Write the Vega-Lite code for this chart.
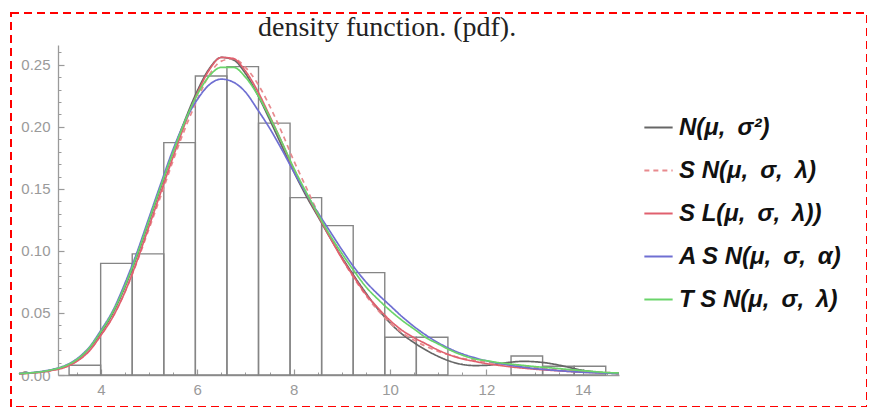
{
  "$schema": "https://vega.github.io/schema/vega-lite/v6.json",
  "autosize": {"type": "none"},
  "padding": {"left": 11, "top": 13, "right": 0, "bottom": 0},
  "width": 856,
  "height": 394,
  "background": "white",
  "title": {
    "text": "density function. (pdf).",
    "font": "Liberation Serif",
    "fontSize": 28,
    "fontWeight": "normal",
    "color": "#222222",
    "anchor": "start",
    "frame": "group",
    "baseline": "alphabetic",
    "offset": 0,
    "dx": 247,
    "dy": 51
  },
  "config": {
    "view": {"stroke": "#ff0000", "strokeDash": [8, 5], "strokeWidth": 2},
    "legend": {
      "orient": "none",
      "legendX": 632,
      "legendY": 99,
      "symbolType": "stroke",
      "symbolSize": 800,
      "symbolStrokeWidth": 2,
      "labelFont": "Liberation Sans",
      "labelFontSize": 24,
      "labelFontStyle": "italic",
      "labelFontWeight": "bold",
      "labelColor": "#111111",
      "rowPadding": 15,
      "labelLimit": 400,
      "labelOffset": 5
    }
  },
  "resolve": {"scale": {"x": "independent", "y": "independent"}, "axis": {"x": "independent", "y": "independent"}},
  "datasets": {
    "bins": [
      {"x0": 3.34, "x1": 3.995, "density": 0.0078},
      {"x0": 3.995, "x1": 4.65, "density": 0.09},
      {"x0": 4.65, "x1": 5.305, "density": 0.0976},
      {"x0": 5.305, "x1": 5.96, "density": 0.1873},
      {"x0": 5.96, "x1": 6.615, "density": 0.241},
      {"x0": 6.615, "x1": 7.27, "density": 0.2486},
      {"x0": 7.27, "x1": 7.925, "density": 0.203},
      {"x0": 7.925, "x1": 8.58, "density": 0.143},
      {"x0": 8.58, "x1": 9.235, "density": 0.1204},
      {"x0": 9.235, "x1": 9.89, "density": 0.0825},
      {"x0": 9.89, "x1": 10.545, "density": 0.0304},
      {"x0": 10.545, "x1": 11.2, "density": 0.0304},
      {"x0": 12.51, "x1": 13.165, "density": 0.0153},
      {"x0": 13.165, "x1": 13.82, "density": 0.007},
      {"x0": 13.82, "x1": 14.475, "density": 0.007}
    ],
    "curves": [
      {"x": 2.3, "N": 0.001, "SN": 0.001, "SL": 0.001, "ASN": 0.0012, "TSN": 0.0011},
      {"x": 2.5, "N": 0.0015, "SN": 0.0014, "SL": 0.0014, "ASN": 0.0017, "TSN": 0.0016},
      {"x": 2.75, "N": 0.0025, "SN": 0.0023, "SL": 0.0023, "ASN": 0.0028, "TSN": 0.0026},
      {"x": 3.0, "N": 0.0042, "SN": 0.0038, "SL": 0.0038, "ASN": 0.0046, "TSN": 0.0044},
      {"x": 3.25, "N": 0.0068, "SN": 0.0062, "SL": 0.0062, "ASN": 0.0075, "TSN": 0.0072},
      {"x": 3.5, "N": 0.012, "SN": 0.011, "SL": 0.011, "ASN": 0.013, "TSN": 0.0125},
      {"x": 3.75, "N": 0.021, "SN": 0.019, "SL": 0.019, "ASN": 0.022, "TSN": 0.0215},
      {"x": 4.0, "N": 0.034, "SN": 0.032, "SL": 0.032, "ASN": 0.036, "TSN": 0.035},
      {"x": 4.25, "N": 0.05, "SN": 0.047, "SL": 0.047, "ASN": 0.052, "TSN": 0.051},
      {"x": 4.5, "N": 0.071, "SN": 0.067, "SL": 0.067, "ASN": 0.074, "TSN": 0.072},
      {"x": 4.75, "N": 0.096, "SN": 0.091, "SL": 0.092, "ASN": 0.099, "TSN": 0.097},
      {"x": 5.0, "N": 0.124, "SN": 0.118, "SL": 0.12, "ASN": 0.127, "TSN": 0.125},
      {"x": 5.25, "N": 0.152, "SN": 0.145, "SL": 0.148, "ASN": 0.155, "TSN": 0.153},
      {"x": 5.5, "N": 0.18, "SN": 0.173, "SL": 0.176, "ASN": 0.182, "TSN": 0.18},
      {"x": 5.75, "N": 0.206, "SN": 0.199, "SL": 0.203, "ASN": 0.205, "TSN": 0.205},
      {"x": 6.0, "N": 0.229, "SN": 0.222, "SL": 0.227, "ASN": 0.222, "TSN": 0.226},
      {"x": 6.25, "N": 0.247, "SN": 0.242, "SL": 0.246, "ASN": 0.234, "TSN": 0.241},
      {"x": 6.5, "N": 0.256, "SN": 0.253, "SL": 0.256, "ASN": 0.2385, "TSN": 0.248},
      {"x": 6.75, "N": 0.254, "SN": 0.255, "SL": 0.255, "ASN": 0.236, "TSN": 0.248},
      {"x": 7.0, "N": 0.243, "SN": 0.248, "SL": 0.245, "ASN": 0.228, "TSN": 0.24},
      {"x": 7.25, "N": 0.226, "SN": 0.235, "SL": 0.229, "ASN": 0.214, "TSN": 0.226},
      {"x": 7.5, "N": 0.206, "SN": 0.217, "SL": 0.209, "ASN": 0.199, "TSN": 0.208},
      {"x": 7.75, "N": 0.185, "SN": 0.196, "SL": 0.188, "ASN": 0.182, "TSN": 0.188},
      {"x": 8.0, "N": 0.164, "SN": 0.173, "SL": 0.166, "ASN": 0.164, "TSN": 0.167},
      {"x": 8.25, "N": 0.145, "SN": 0.152, "SL": 0.147, "ASN": 0.147, "TSN": 0.148},
      {"x": 8.5, "N": 0.128, "SN": 0.131, "SL": 0.129, "ASN": 0.131, "TSN": 0.13},
      {"x": 8.75, "N": 0.111, "SN": 0.112, "SL": 0.111, "ASN": 0.116, "TSN": 0.113},
      {"x": 9.0, "N": 0.095, "SN": 0.094, "SL": 0.094, "ASN": 0.101, "TSN": 0.098},
      {"x": 9.25, "N": 0.08, "SN": 0.078, "SL": 0.079, "ASN": 0.087, "TSN": 0.084},
      {"x": 9.5, "N": 0.066, "SN": 0.064, "SL": 0.065, "ASN": 0.075, "TSN": 0.071},
      {"x": 9.75, "N": 0.053, "SN": 0.052, "SL": 0.054, "ASN": 0.065, "TSN": 0.061},
      {"x": 10.0, "N": 0.042, "SN": 0.042, "SL": 0.044, "ASN": 0.056, "TSN": 0.052},
      {"x": 10.25, "N": 0.033, "SN": 0.034, "SL": 0.036, "ASN": 0.047, "TSN": 0.044},
      {"x": 10.5, "N": 0.026, "SN": 0.028, "SL": 0.03, "ASN": 0.039, "TSN": 0.037},
      {"x": 10.75, "N": 0.02, "SN": 0.023, "SL": 0.025, "ASN": 0.032, "TSN": 0.03},
      {"x": 11.0, "N": 0.015, "SN": 0.019, "SL": 0.02, "ASN": 0.026, "TSN": 0.025},
      {"x": 11.25, "N": 0.011, "SN": 0.016, "SL": 0.016, "ASN": 0.021, "TSN": 0.02},
      {"x": 11.5, "N": 0.0085, "SN": 0.0135, "SL": 0.013, "ASN": 0.017, "TSN": 0.016},
      {"x": 11.75, "N": 0.0076, "SN": 0.012, "SL": 0.011, "ASN": 0.014, "TSN": 0.013},
      {"x": 12.0, "N": 0.0078, "SN": 0.0105, "SL": 0.0092, "ASN": 0.0115, "TSN": 0.0115},
      {"x": 12.25, "N": 0.009, "SN": 0.0092, "SL": 0.0078, "ASN": 0.0095, "TSN": 0.01},
      {"x": 12.5, "N": 0.0103, "SN": 0.008, "SL": 0.0066, "ASN": 0.0078, "TSN": 0.0088},
      {"x": 12.75, "N": 0.011, "SN": 0.007, "SL": 0.0056, "ASN": 0.0064, "TSN": 0.0078},
      {"x": 13.0, "N": 0.0107, "SN": 0.006, "SL": 0.0047, "ASN": 0.0052, "TSN": 0.0068},
      {"x": 13.25, "N": 0.0097, "SN": 0.0051, "SL": 0.004, "ASN": 0.0043, "TSN": 0.006},
      {"x": 13.5, "N": 0.008, "SN": 0.0043, "SL": 0.0034, "ASN": 0.0035, "TSN": 0.0052},
      {"x": 13.75, "N": 0.0058, "SN": 0.0036, "SL": 0.0028, "ASN": 0.0028, "TSN": 0.0043},
      {"x": 14.0, "N": 0.0038, "SN": 0.003, "SL": 0.0023, "ASN": 0.0022, "TSN": 0.0035},
      {"x": 14.25, "N": 0.0025, "SN": 0.0025, "SL": 0.0019, "ASN": 0.0018, "TSN": 0.0027},
      {"x": 14.5, "N": 0.0016, "SN": 0.002, "SL": 0.0016, "ASN": 0.0015, "TSN": 0.002},
      {"x": 14.75, "N": 0.0011, "SN": 0.0017, "SL": 0.0013, "ASN": 0.0012, "TSN": 0.0016}
    ]
  },
  "layer": [
    {
      "data": {"name": "bins"},
      "mark": {"type": "rect", "fill": "#ffffff", "fillOpacity": 0, "stroke": "#858585", "strokeWidth": 1.4},
      "encoding": {
        "x": {
          "field": "x0", "type": "quantitative",
          "scale": {"domain": [3.11, 14.75], "range": [47, 608], "nice": false, "zero": false},
          "axis": {
            "orient": "bottom",
            "title": null, "grid": false, "offset": -32,
            "values": [4, 6, 8, 10, 12, 14],
            "format": "d",
            "labelOverlap": false, "labelFlush": false,
            "domainColor": "#9a9a9a", "domainWidth": 1.3,
            "tickColor": "#9a9a9a", "tickWidth": 1.2, "tickSize": -6,
            "labelFont": "Liberation Sans", "labelFontSize": 15, "labelColor": "#9a9a9a", "labelPadding": 13
          }
        },
        "x2": {"field": "x1"},
        "y": {
          "field": "density", "type": "quantitative",
          "scale": {"domain": [0, 0.266], "range": [362, 32], "nice": false, "zero": false},
          "axis": {
            "orient": "left",
            "title": null, "grid": false, "offset": -47,
            "values": [0, 0.05, 0.1, 0.15, 0.2, 0.25],
            "format": ".2f",
            "labelOverlap": false, "labelFlush": false,
            "domainColor": "#9a9a9a", "domainWidth": 1.3,
            "tickColor": "#9a9a9a", "tickWidth": 1.2, "tickSize": -6,
            "labelFont": "Liberation Sans", "labelFontSize": 15, "labelColor": "#9a9a9a", "labelPadding": 14
          }
        },
        "y2": {"datum": 0}
      }
    },
    {
      "data": {"name": "curves"},
      "transform": [{"fold": ["N", "SN", "SL", "ASN", "TSN"], "as": ["model", "pdf"]}],
      "mark": {"type": "line", "interpolate": "monotone", "strokeWidth": 1.7},
      "encoding": {
        "x": {
          "field": "x", "type": "quantitative",
          "scale": {"domain": [3.11, 14.75], "range": [47, 608], "nice": false, "zero": false},
          "axis": {
            "orient": "bottom",
            "title": null, "grid": false, "offset": -32,
            "values": [3.5, 4.5, 5, 5.5, 6.5, 7, 7.5, 8.5, 9, 9.5, 10.5, 11, 11.5, 12.5, 13, 13.5, 14.5],
            "labels": false, "domain": false,
            "tickColor": "#9a9a9a", "tickWidth": 1, "tickSize": -3
          }
        },
        "y": {
          "field": "pdf", "type": "quantitative",
          "scale": {"domain": [0, 0.266], "range": [362, 32], "nice": false, "zero": false},
          "axis": {
            "orient": "left",
            "title": null, "grid": false, "offset": -47,
            "values": [0.01, 0.02, 0.03, 0.04, 0.06, 0.07, 0.08, 0.09, 0.11, 0.12, 0.13, 0.14, 0.16, 0.17, 0.18, 0.19, 0.21, 0.22, 0.23, 0.24, 0.26],
            "labels": false, "domain": false,
            "tickColor": "#9a9a9a", "tickWidth": 1, "tickSize": -3
          }
        },
        "color": {
          "field": "model", "type": "nominal",
          "scale": {
            "domain": ["N", "SN", "SL", "ASN", "TSN"],
            "range": ["#666666", "#e88a8e", "#e0606e", "#6f6fd2", "#6ad46a"]
          },
          "legend": {
            "title": null,
            "labelExpr": "{'N': 'N(μ,\u2002σ²)', 'SN': 'S N(μ,\u2002σ,\u2002λ)', 'SL': 'S L(μ,\u2002σ,\u2002λ))', 'ASN': 'A S N(μ,\u2002σ,\u2002α)', 'TSN': 'T S N(μ,\u2002σ,\u2002λ)'}[datum.label]"
          }
        },
        "strokeDash": {
          "field": "model", "type": "nominal",
          "scale": {
            "domain": ["N", "SN", "SL", "ASN", "TSN"],
            "range": [[1, 0], [5, 4], [1, 0], [1, 0], [1, 0]]
          },
          "legend": {
            "title": null,
            "labelExpr": "{'N': 'N(μ,\u2002σ²)', 'SN': 'S N(μ,\u2002σ,\u2002λ)', 'SL': 'S L(μ,\u2002σ,\u2002λ))', 'ASN': 'A S N(μ,\u2002σ,\u2002α)', 'TSN': 'T S N(μ,\u2002σ,\u2002λ)'}[datum.label]"
          }
        },
        "order": {"field": "model"}
      }
    }
  ]
}
